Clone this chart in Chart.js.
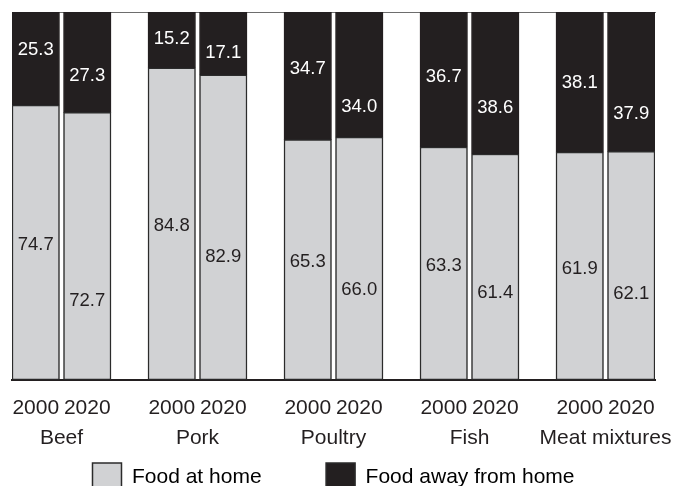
<!DOCTYPE html>
<html>
<head>
<meta charset="utf-8">
<script src="https://cdn.jsdelivr.net/npm/chart.js@4/dist/chart.umd.min.js"></script>
<style>
  html, body { margin: 0; padding: 0; background: #fff; }
  #wrap { width: 681px; height: 486px; }
</style>
</head>
<body>
<div id="wrap"><canvas id="barChart" width="681" height="486"></canvas></div>
<script>
// data
const categories = ["Beef", "Pork", "Poultry", "Fish", "Meat mixtures"];
const years = ["2000", "2020"];
const homeShare = [74.7, 72.7, 84.8, 82.9, 65.3, 66.0, 63.3, 61.4, 61.9, 62.1];
const awayShare = [25.3, 27.3, 15.2, 17.1, 34.7, 34.0, 36.7, 38.6, 38.1, 37.9];

// label nudges (px from the middle of each segment)
const homeLabelShift = [1, 54, 1, 29, 1, 30, 2, 25, 2, 27];
const awayLabelShift = [-10, 13, -2, 8, -8, 31, -4, 24, 0, 31];

const groupStep = 2.64; // distance between groups, in bar widths
const barX = [];
categories.forEach((c, g) => years.forEach((y, j) => barX.push(g * groupStep + j)));
const groupX = categories.map((c, g) => g * groupStep + 0.5);
const edge = 0.461;
const xMin = -edge, xMax = barX[barX.length - 1] + edge;

const font = "'Liberation Sans', Arial, sans-serif";

const valueLabels = {
  id: "valueLabels",
  afterDatasetsDraw(chart) {
    const ctx = chart.ctx;
    ctx.save();
    ctx.font = "18.5px " + font;
    ctx.textAlign = "center";
    ctx.textBaseline = "middle";
    chart.data.datasets.forEach((ds, di) => {
      const meta = chart.getDatasetMeta(di);
      const shifts = di === 0 ? homeLabelShift : awayLabelShift;
      meta.data.forEach((bar, i) => {
        const mid = (bar.y + bar.base) / 2 + shifts[i];
        ctx.fillStyle = di === 0 ? "#231f20" : "#ffffff";
        ctx.fillText(ds.data[i].y.toFixed(1), bar.x, mid + 1);
      });
    });
    ctx.restore();
  }
};

const noGrid = { display: false, drawTicks: false };

const ctx = document.getElementById("barChart").getContext("2d");
new Chart(ctx, {
  type: "bar",
  data: {
    datasets: [
      {
        label: "Food at home",
        data: homeShare.map((v, i) => ({ x: barX[i], y: v })),
        backgroundColor: "#d1d2d4",
        borderColor: "#2b2b2b",
        borderWidth: 1.5,
        borderSkipped: false,
        barThickness: 47.5
      },
      {
        label: "Food away from home",
        data: awayShare.map((v, i) => ({ x: barX[i], y: v })),
        backgroundColor: "#231f20",
        borderColor: "#231f20",
        borderWidth: 1,
        borderSkipped: false,
        barThickness: 47.5
      }
    ]
  },
  options: {
    responsive: false,
    animation: false,
    devicePixelRatio: 1,
    layout: { padding: { left: 12, right: 26, top: 12, bottom: -15 } },
    plugins: {
      tooltip: { enabled: false },
      legend: {
        position: "bottom",
        labels: {
          boxWidth: 29,
          boxHeight: 28,
          padding: 12,
          color: "#231f20",
          font: { family: font, size: 21 },
          generateLabels(chart) {
            return chart.data.datasets.map((ds, i) => ({
              // trailing spaces widen the gap between the two entries
              text: ds.label + (i === 0 ? " ".repeat(9) : ""),
              fillStyle: ds.backgroundColor,
              strokeStyle: "#2b2b2b",
              lineWidth: 1.5,
              datasetIndex: i
            }));
          }
        }
      }
    },
    scales: {
      x: {
        type: "linear",
        stacked: true,
        offset: false,
        min: xMin,
        max: xMax,
        grid: noGrid,
        border: { display: true, color: "#231f20", width: 2 },
        afterBuildTicks: s => { s.ticks = barX.map(v => ({ value: v })); },
        afterFit: s => { s.paddingLeft = 0; s.paddingRight = 0; s.height = 46; },
        ticks: {
          autoSkip: false,
          maxRotation: 0,
          padding: 16,
          color: "#231f20",
          font: { family: font, size: 21 },
          callback: (v, i) => years[i % years.length]
        }
      },
      x2: {
        type: "linear",
        position: "bottom",
        offset: false,
        min: xMin,
        max: xMax,
        grid: noGrid,
        border: { display: false },
        afterBuildTicks: s => { s.ticks = groupX.map(v => ({ value: v })); },
        afterFit: s => { s.paddingLeft = 0; s.paddingRight = 0; },
        ticks: {
          autoSkip: false,
          maxRotation: 0,
          padding: 0,
          color: "#231f20",
          font: { family: font, size: 21 },
          callback: (v, i) => categories[i]
        }
      },
      xTop: {
        type: "linear",
        position: "top",
        offset: false,
        min: xMin,
        max: xMax,
        grid: noGrid,
        border: { display: true, color: "#6d6d6d", width: 1 },
        ticks: { display: false }
      },
      y: {
        stacked: true,
        min: 0,
        max: 100,
        display: false
      }
    }
  },
  plugins: [valueLabels]
});
</script>
</body>
</html>
